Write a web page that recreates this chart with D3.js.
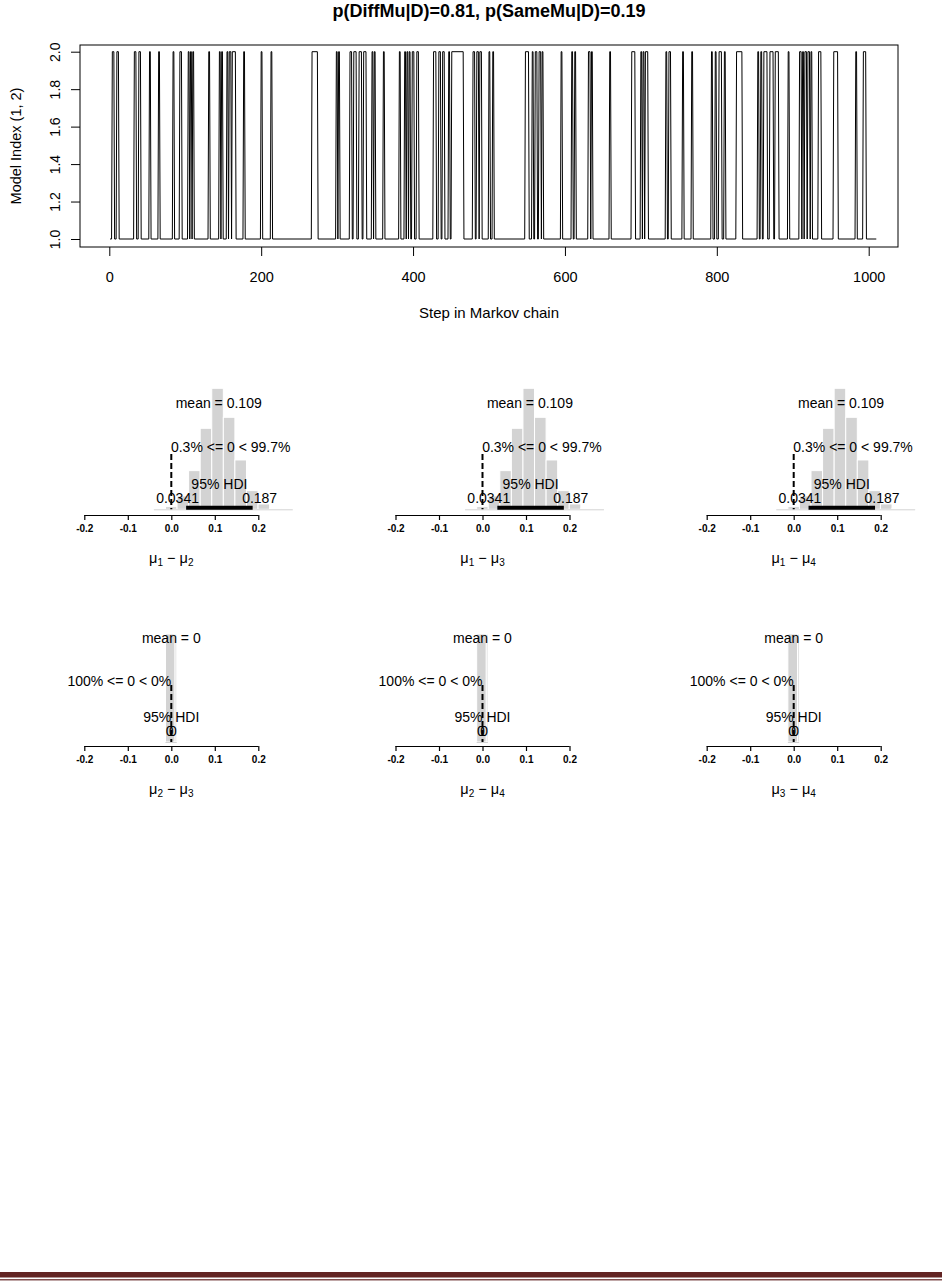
<!DOCTYPE html>
<html>
<head>
<meta charset="utf-8">
<script src="https://cdn.jsdelivr.net/npm/d3@7"></script>
<style>
  body { margin: 0; background: #fff; }
  svg { display: block; font-family: "Liberation Sans", Arial, sans-serif; }
</style>
</head>
<body>
<svg id="page" width="942" height="1281"></svg>
<script>
// ---- data ----
const chainEnd = 1010;
// steps where the chain sat in model 2, as [first, last]
const model2Runs = [
  [4, 6], [10, 12], [33, 35], [39, 41], [53, 54], [65, 66], [84, 85], [93, 95],
  [104, 105], [107, 108], [110, 111], [131, 132], [145, 146], [148, 149],
  [155, 156], [158, 160], [162, 166], [177, 178], [200, 201], [213, 214],
  [267, 274], [299, 300], [302, 303], [317, 319], [322, 325],
  [329, 332], [335, 338], [346, 347], [349, 350], [361, 362], [382, 383],
  [389, 390], [392, 393], [395, 396], [399, 401], [405, 407], [427, 430],
  [434, 436], [439, 441], [447, 448], [451, 466], [479, 481], [484, 486],
  [488, 490], [500, 501], [505, 506], [548, 552], [557, 558], [561, 563],
  [566, 568], [570, 571], [595, 596], [609, 610], [613, 614], [631, 633],
  [635, 636], [659, 660],
  [688, 692], [700, 701], [703, 704], [706, 709], [733, 734], [737, 739],
  [755, 756], [767, 768], [793, 794], [798, 799], [803, 806], [810, 811],
  [826, 833], [854, 855], [858, 859], [862, 866], [870, 874], [877, 881],
  [894, 895], [909, 911], [913, 914], [916, 918], [920, 922], [924, 925],
  [934, 937], [954, 959], [983, 984], [993, 996]
];
const stepTicks = [0, 200, 400, 600, 800, 1000];
const modelTicks = [1.0, 1.2, 1.4, 1.6, 1.8, 2.0];
const pDiffMu = 0.81, pSameMu = 0.19;

const diffPairs = [["1", "2"], ["1", "3"], ["1", "4"], ["2", "3"], ["2", "4"], ["3", "4"]];
const diffMean = [0.109, 0.109, 0.109, 0, 0, 0];
const pctBelow = [0.3, 0.3, 0.3, 100, 100, 100];
const pctAbove = [99.7, 99.7, 99.7, 0, 0, 0];
const hdiLow = [0.0341, 0.0341, 0.0341, 0, 0, 0];
const hdiHigh = [0.187, 0.187, 0.187, 0, 0, 0];
const compVal = 0;
const diffTicks = [-0.2, -0.1, 0.0, 0.1, 0.2];

// histogram of mu_i - mu_j when the means differ
const breaksDiff = [-0.0400, -0.0134, 0.0132, 0.0398, 0.0664, 0.0930, 0.1196,
  0.1462, 0.1728, 0.1994, 0.2260, 0.2526, 0.2792];
const densDiff = [1, 8, 40, 116, 243, 363, 276, 148, 56, 16, 3, 1];
// histogram when the means are equal (all mass at zero)
const breaksSame = [-0.0134, 0.0087, 0.0125];
const densSame = [100, 100];

// ---- layout ----
const svg = d3.select("#page");
const box = { left: 80, right: 898, top: 45, bottom: 247 };

// trace plot
const x = d3.scaleLinear().domain([0, 1000]).range([109.3, 868.7]);
const y = d3.scaleLinear().domain([1, 2]).range([239, 51.7]);

svg.append("text")
  .attr("x", 489).attr("y", 17)
  .attr("text-anchor", "middle")
  .attr("font-size", 18).attr("font-weight", "bold")
  .text(`p(DiffMu|D)=${pDiffMu}, p(SameMu|D)=${pSameMu}`);

svg.append("rect")
  .attr("x", box.left).attr("y", box.top)
  .attr("width", box.right - box.left).attr("height", box.bottom - box.top)
  .attr("fill", "none").attr("stroke", "#000");

const pts = [[1, 1]];
model2Runs.forEach(([s, e]) => {
  pts.push([s - 1, 1], [s, 2], [e, 2], [e + 1, 1]);
});
pts.push([chainEnd, 1]);

svg.append("path")
  .datum(pts)
  .attr("fill", "none")
  .attr("stroke", "#000")
  .attr("stroke-width", 1)
  .attr("d", d3.line().x(d => x(d[0])).y(d => y(d[1])));

const xAxis = svg.append("g")
  .attr("transform", `translate(0,${box.bottom})`)
  .call(d3.axisBottom(x).tickValues(stepTicks).tickSize(9).tickPadding(16).tickFormat(d3.format("d")));
xAxis.select(".domain").remove();
xAxis.selectAll("text").attr("font-size", 14.5).attr("font-family", null);

const yAxis = svg.append("g")
  .attr("transform", `translate(${box.left},0)`)
  .call(d3.axisLeft(y).tickValues(modelTicks).tickSize(9).tickFormat(d3.format(".1f")));
yAxis.select(".domain").remove();
yAxis.selectAll("text")
  .attr("font-size", 14).attr("font-family", null)
  .attr("x", 0).attr("dy", 0)
  .attr("text-anchor", "middle")
  .attr("transform", "translate(-20,0) rotate(-90)");

svg.append("text")
  .attr("transform", `translate(21,${(box.top + box.bottom) / 2}) rotate(-90)`)
  .attr("text-anchor", "middle")
  .attr("font-size", 14.5)
  .text("Model Index (1, 2)");

svg.append("text")
  .attr("x", 489).attr("y", 318)
  .attr("text-anchor", "middle")
  .attr("font-size", 15)
  .text("Step in Markov chain");

// posterior panels
const rows = [
  { axisY: 515, baseY: 509.3, topY: 388.3, meanY: 403.3, compY: 446.7, dashTop: 454, hdiTextY: 484, numY: 498.3, barY: 507.7 },
  { axisY: 746, baseY: 742, topY: 634, meanY: 638.3, compY: 680.7, dashTop: 685, hdiTextY: 717.3, numY: 731, barY: 740 }
];
const colZero = [171.3, 482.5, 793.7];
const unitPx = 435;

function addText(g, tx, ty, s, size, anchor) {
  return g.append("text")
    .attr("x", tx).attr("y", ty)
    .attr("dy", "0.35em")
    .attr("text-anchor", anchor || "middle")
    .attr("font-size", size)
    .text(s);
}

diffPairs.forEach((pair, i) => {
  const row = rows[Math.floor(i / 3)];
  const z = colZero[i % 3];
  const xs = d3.scaleLinear().domain([0, 1]).range([z, z + unitPx]);
  const same = i >= 3;
  const breaks = same ? breaksSame : breaksDiff;
  const dens = same ? densSame : densDiff;
  const ys = d3.scaleLinear().domain([0, d3.max(dens)]).range([row.baseY, row.topY]);
  const g = svg.append("g");

  // bars
  g.selectAll("rect")
    .data(dens)
    .join("rect")
    .attr("x", (d, k) => xs(breaks[k]))
    .attr("width", (d, k) => xs(breaks[k + 1]) - xs(breaks[k]))
    .attr("y", d => ys(d))
    .attr("height", d => row.baseY - ys(d))
    .attr("fill", "#d3d3d3")
    .attr("stroke", "#fff")
    .attr("stroke-width", 1);
  g.append("line")
    .attr("x1", xs(breaks[0])).attr("x2", xs(breaks[breaks.length - 1]))
    .attr("y1", row.baseY + 0.5).attr("y2", row.baseY + 0.5)
    .attr("stroke", "#d3d3d3");

  // axis
  const ax = g.append("g")
    .attr("transform", `translate(0,${row.axisY})`)
    .call(d3.axisBottom(xs).tickValues(diffTicks).tickSize(5).tickPadding(5).tickFormat(d3.format(".1f")));
  ax.select(".domain").attr("d", `M${xs(-0.2)},0.5H${xs(0.2)}`).attr("stroke-width", 1.2);
  ax.selectAll(".tick line").attr("stroke-width", 1.2);
  ax.selectAll("text").attr("font-size", 10).attr("font-weight", "bold").attr("font-family", null)
    .text(d => d3.format(".1f")(d).replace("−", "-"));

  // x label
  const lab = g.append("text")
    .attr("x", z).attr("y", row.axisY + 48)
    .attr("text-anchor", "middle")
    .attr("font-size", 14.5);
  lab.append("tspan").text("μ");
  lab.append("tspan").attr("font-size", 10).attr("dy", 3).text(pair[0]);
  lab.append("tspan").attr("dy", -3).text(" − μ");
  lab.append("tspan").attr("font-size", 10).attr("dy", 3).text(pair[1]);

  // comparison value line
  g.append("line")
    .attr("x1", xs(compVal)).attr("x2", xs(compVal))
    .attr("y1", row.dashTop).attr("y2", row.baseY)
    .attr("stroke", "#000").attr("stroke-width", 2)
    .attr("stroke-dasharray", "6,3");

  addText(g, xs(diffMean[i]), row.meanY, `mean = ${diffMean[i]}`, 14);

  const cv = addText(g, 0, row.compY, `${pctBelow[i]}% <= ${compVal} < ${pctAbove[i]}%`, 14, "start");
  const cw = cv.node().getComputedTextLength();
  cv.attr("x", xs(compVal) - (pctBelow[i] / 100) * cw);

  addText(g, xs((hdiLow[i] + hdiHigh[i]) / 2), row.hdiTextY, "95% HDI", 14);

  const lo = addText(g, 0, row.numY, `${hdiLow[i]}`, 14, "start");
  lo.attr("x", xs(hdiLow[i]) - 0.7 * lo.node().getComputedTextLength());
  const hi = addText(g, 0, row.numY, `${hdiHigh[i]}`, 14, "start");
  hi.attr("x", xs(hdiHigh[i]) - 0.3 * hi.node().getComputedTextLength());

  g.append("line")
    .attr("x1", xs(hdiLow[i])).attr("x2", xs(hdiHigh[i]))
    .attr("y1", row.barY).attr("y2", row.barY)
    .attr("stroke", "#000").attr("stroke-width", 4);
});

// page footer rule
svg.append("rect").attr("x", 0).attr("y", 1272).attr("width", 942).attr("height", 5.5).attr("fill", "#622423");
svg.append("rect").attr("x", 0).attr("y", 1279.2).attr("width", 942).attr("height", 1.2).attr("fill", "#622423");
</script>
</body>
</html>
